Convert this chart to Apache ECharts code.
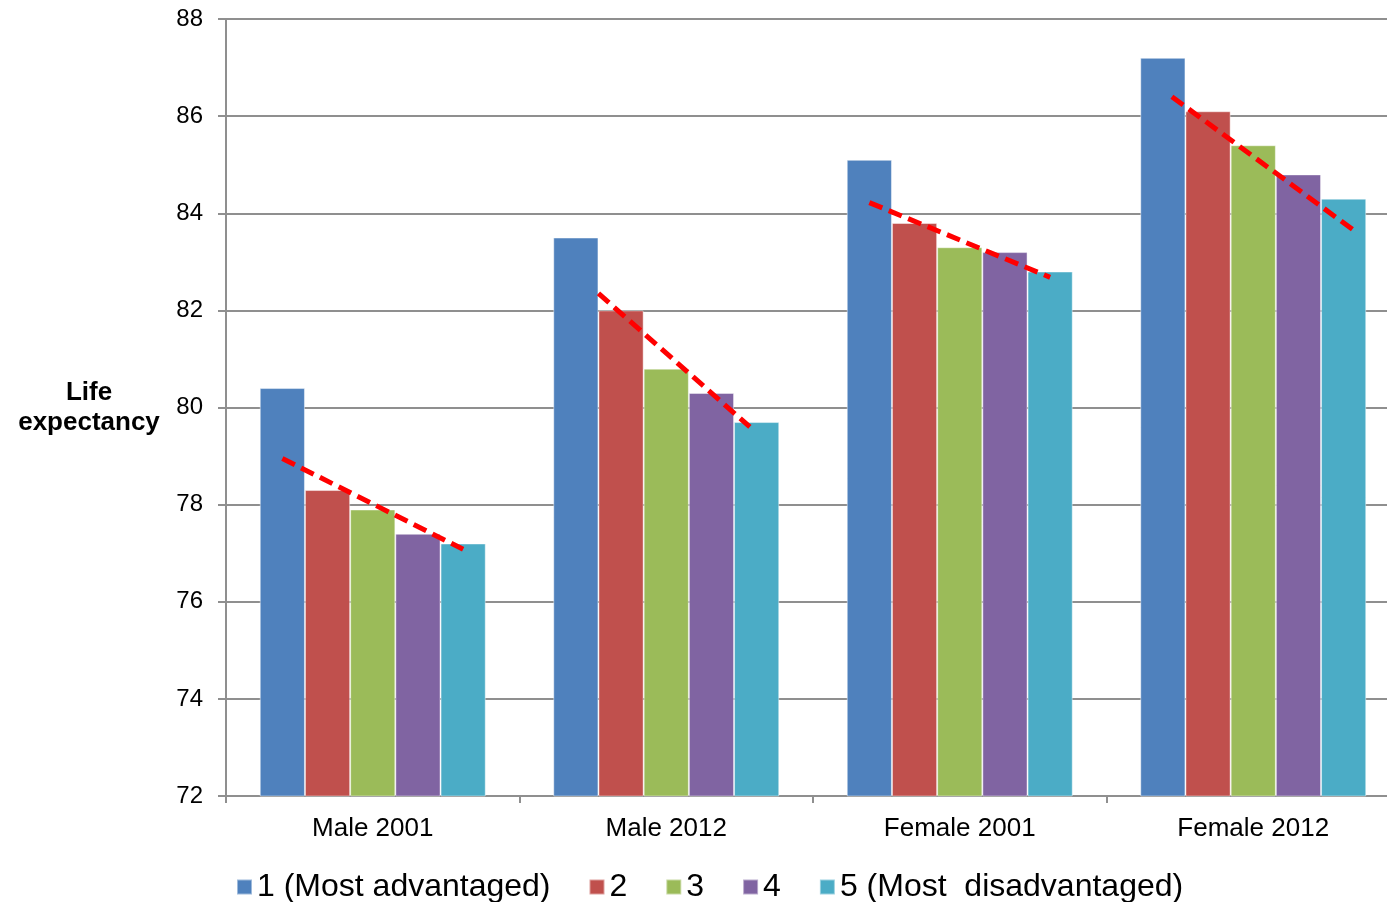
<!DOCTYPE html>
<html>
<head>
<meta charset="utf-8">
<script src="https://cdn.jsdelivr.net/npm/echarts@6/dist/echarts.min.js"></script>
<style>
  html, body { margin: 0; padding: 0; background: #fff; }
  #chart { width: 1387px; height: 902px; }
</style>
</head>
<body>
<div id="chart"></div>
<script>
// Life expectancy by socio-economic quintile
const categories = ['Male 2001', 'Male 2012', 'Female 2001', 'Female 2012'];
const quintileNames = ['1 (Most advantaged)', '2', '3', '4', '5 (Most  disadvantaged)'];

const q1 = [80.4, 83.5, 85.1, 87.2];
const q2 = [78.3, 82.0, 83.8, 86.1];
const q3 = [77.9, 80.8, 83.3, 85.4];
const q4 = [77.4, 80.3, 83.2, 84.8];
const q5 = [77.2, 79.7, 82.8, 84.3];

// Dashed trend lines per group: start/end expressed as bar slot (0..4) and value
const trendFromSlot = [0, 0.5, 0, 0.2];
const trendToSlot = [4, 3.85, 4, 4.25];
const trendFromValue = [78.95, 82.35, 84.22, 86.4];
const trendToValue = [77.08, 79.6, 82.68, 83.63];

const yTicks = { min: 72, max: 88, interval: 2 };

const colors = ['#4F81BD', '#C0504D', '#9BBB59', '#8064A2', '#4BACC6'];
const quintileValues = [q1, q2, q3, q4, q5];

const categoryGap = 0.23;             // share of each band left empty
const slotWidth = (1 - categoryGap) / quintileValues.length;

// convert a bar slot inside group g to a position on a 0..N value axis
function slotToX(g, slot) {
  return g + categoryGap / 2 + slotWidth * (slot + 0.5);
}

const gridColor = '#8f8f8f';
const font = 'Liberation Sans, Arial, sans-serif';

const barSeries = quintileValues.map((vals, i) => ({
  name: quintileNames[i],
  type: 'bar',
  data: vals,
  barGap: '0%',
  barCategoryGap: (categoryGap * 100) + '%',
  itemStyle: { color: colors[i], borderColor: 'rgba(255,255,255,0.45)', borderWidth: 1 },
  xAxisIndex: 0,
  yAxisIndex: 0,
  z: 2
}));

const trendSeries = categories.map((c, g) => ({
  type: 'line',
  xAxisIndex: 1,
  yAxisIndex: 0,
  data: [
    [slotToX(g, trendFromSlot[g]), trendFromValue[g]],
    [slotToX(g, trendToSlot[g]), trendToValue[g]]
  ],
  symbol: 'none',
  silent: true,
  lineStyle: { color: '#FF0000', width: 5, type: [14, 7] },
  z: 5
}));

const chart = echarts.init(document.getElementById('chart'), null, { renderer: 'canvas' });
chart.setOption({
  animation: false,
  backgroundColor: '#ffffff',
  color: colors,
  grid: { left: 226, top: 19, width: 1174, bottom: 106, containLabel: false, outerBoundsMode: 'none' },
  legend: {
    data: quintileNames,
    left: 231,
    top: 866,
    icon: 'rect',
    itemWidth: 15,
    itemHeight: 15,
    itemGap: 38,
    textStyle: { fontFamily: font, fontSize: 32, color: '#000' }
  },
  xAxis: [
    {
      type: 'category',
      data: categories,
      axisLine: { show: true, lineStyle: { color: gridColor, width: 2 } },
      axisTick: { show: true, length: 7, lineStyle: { color: gridColor, width: 2 } },
      axisLabel: { fontFamily: font, fontSize: 26, color: '#000', margin: 20 },
      splitLine: { show: false }
    },
    {
      type: 'value',
      min: 0,
      max: categories.length,
      show: false
    }
  ],
  yAxis: {
    type: 'value',
    min: yTicks.min,
    max: yTicks.max,
    interval: yTicks.interval,
    name: 'Life\nexpectancy',
    nameLocation: 'middle',
    nameRotate: 0,
    nameGap: 137,
    nameTextStyle: { fontFamily: font, fontSize: 26, fontWeight: 'bold', color: '#000', lineHeight: 30, align: 'center' },
    axisLine: { show: true, lineStyle: { color: gridColor, width: 2 } },
    axisTick: { show: true, inside: false, length: 8, lineStyle: { color: gridColor, width: 2 } },
    axisLabel: { fontFamily: font, fontSize: 24, color: '#000', margin: 23 },
    splitLine: { show: true, lineStyle: { color: gridColor, width: 2 } }
  },
  series: barSeries.concat(trendSeries)
});
</script>
</body>
</html>
